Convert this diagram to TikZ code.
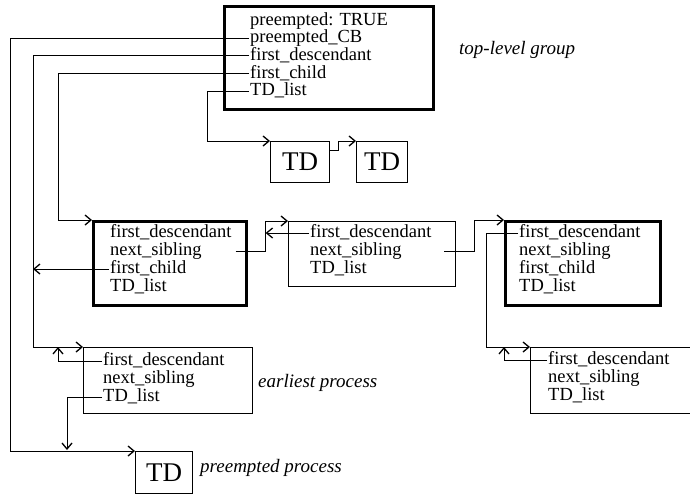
\documentclass[tikz,border=0pt]{standalone}
\usepackage{fontspec}
\setmainfont{Liberation Serif}
\usetikzlibrary{arrows.meta,calc}

\begin{document}
\begin{tikzpicture}[x=1pt,y=-1pt,
  rec/.style={draw,line width=1pt,anchor=north west,inner sep=0pt},
  heavy/.style={rec,line width=2.6pt},
  tdbox/.style={rec,font=\fontsize{27}{27}\selectfont},
  field/.style={anchor=west,inner sep=1pt,font=\fontsize{18.5}{18}\selectfont,
    text height=13pt,text depth=4pt},
  note/.style={anchor=west,inner sep=0pt,font=\fontsize{19}{19}\selectfont\itshape},
  link/.style={line width=1pt},
  ptr/.style={link,-{Straight Barb[length=6pt,width=10pt,line width=1.3pt]}}]

% Frame
\clip (0,0) rectangle (690,495);
\fill[white] (0,0) rectangle (690,495);

% Boxes
\node[heavy,minimum width=209pt,minimum height=103pt] (top) at (223,5) {};
\node[heavy,minimum width=153pt,minimum height=84pt] (grpL) at (92,220) {};
\node[rec,minimum width=167pt,minimum height=65pt] (mid) at (288,221) {};
\node[heavy,minimum width=155pt,minimum height=84pt] (grpR) at (504,220) {};
\node[rec,minimum width=169pt,minimum height=66pt] (early) at (83,347) {};
\node[rec,minimum width=200pt,minimum height=66pt] (procR) at (530,347) {};
\node[tdbox,minimum width=59pt,minimum height=41pt] (td1) at (270,141) {TD};
\node[tdbox,minimum width=51pt,minimum height=41pt] (td2) at (356,141) {TD};
\node[tdbox,minimum width=57pt,minimum height=42pt] (tdP) at (135,451) {TD};

% Fields of the top-level group
\node[field] (tPre) at (249,21) {preempted: TRUE};
\node[field] (tCB) at (249,38.5) {preempted\_CB};
\node[field] (tFD) at (249,56) {first\_descendant};
\node[field] (tFC) at (249,73.5) {first\_child};
\node[field] (tTD) at (249,91) {TD\_list};

% Fields of the left group
\node[field] (gFD) at (109,233) {first\_descendant};
\node[field] (gNS) at (109,251) {next\_sibling};
\node[field] (gFC) at (109,269) {first\_child};
\node[field] (gTD) at (109,287) {TD\_list};

% Fields of the middle process
\node[field] (mFD) at (309,233) {first\_descendant};
\node[field] (mNS) at (309,251) {next\_sibling};
\node[field] (mTD) at (309,269) {TD\_list};

% Fields of the right group
\node[field] (rFD) at (518,233) {first\_descendant};
\node[field] (rNS) at (518,251) {next\_sibling};
\node[field] (rFC) at (518,269) {first\_child};
\node[field] (rTD) at (518,287) {TD\_list};

% Fields of the earliest process
\node[field] (eFD) at (102,361) {first\_descendant};
\node[field] (eNS) at (102,379) {next\_sibling};
\node[field] (eTD) at (102,397) {TD\_list};

% Fields of the lower right process
\node[field] (pFD) at (547,360) {first\_descendant};
\node[field] (pNS) at (547,378) {next\_sibling};
\node[field] (pTD) at (547,396) {TD\_list};

% Labels
\node[note] (lblTop) at (459,50) {top-level group};
\node[note] (lblEarly) at (258,383) {earliest process};
\node[note] (lblPre) at (200,468) {preempted process};

% Pointers from the top-level group
\draw[ptr] (tCB.west) -- ++(-239,0) |- (tdP.north west);
\draw[ptr] (tFD.west) -- ++(-216,0) coordinate (fdBus) |- (early.north west);
\draw[ptr] (tFC.west) -- ++(-191,0) |- (grpL.north west);
\draw[ptr] (tTD.west) -- ++(-42,0) |- (td1.north west);
\draw[ptr] ([yshift=-9pt]td1.north east) -- ++(8,0) |- (td2.north west);

% Pointers between the groups
\draw[ptr] (gFC.west) -- (gFC.west -| fdBus);
\draw[ptr] ($(gNS.west -| grpL.east)+(-12,0)$) -- ++(30,0) coordinate (nsBus) |- (mid.north west);
\draw[ptr] (mFD.west) -- (mFD.west -| nsBus);
\draw[ptr] ($(mNS.west -| mid.east)+(-12,0)$) -- ++(30,0) |- (grpR.north west);
\draw[ptr] (rFD.west) -- ++(-32,0) |- (procR.north west);

% Pointers of the processes
\draw[ptr] (pFD.west) -- ++(-43,0) -- ++(0,-13);
\draw[ptr] (eFD.west) -- ++(-44,0) -- ++(0,-14);
\draw[ptr] (eTD.west) -- ++(-35,0) -- ++(0,53);

\end{tikzpicture}
\end{document}
